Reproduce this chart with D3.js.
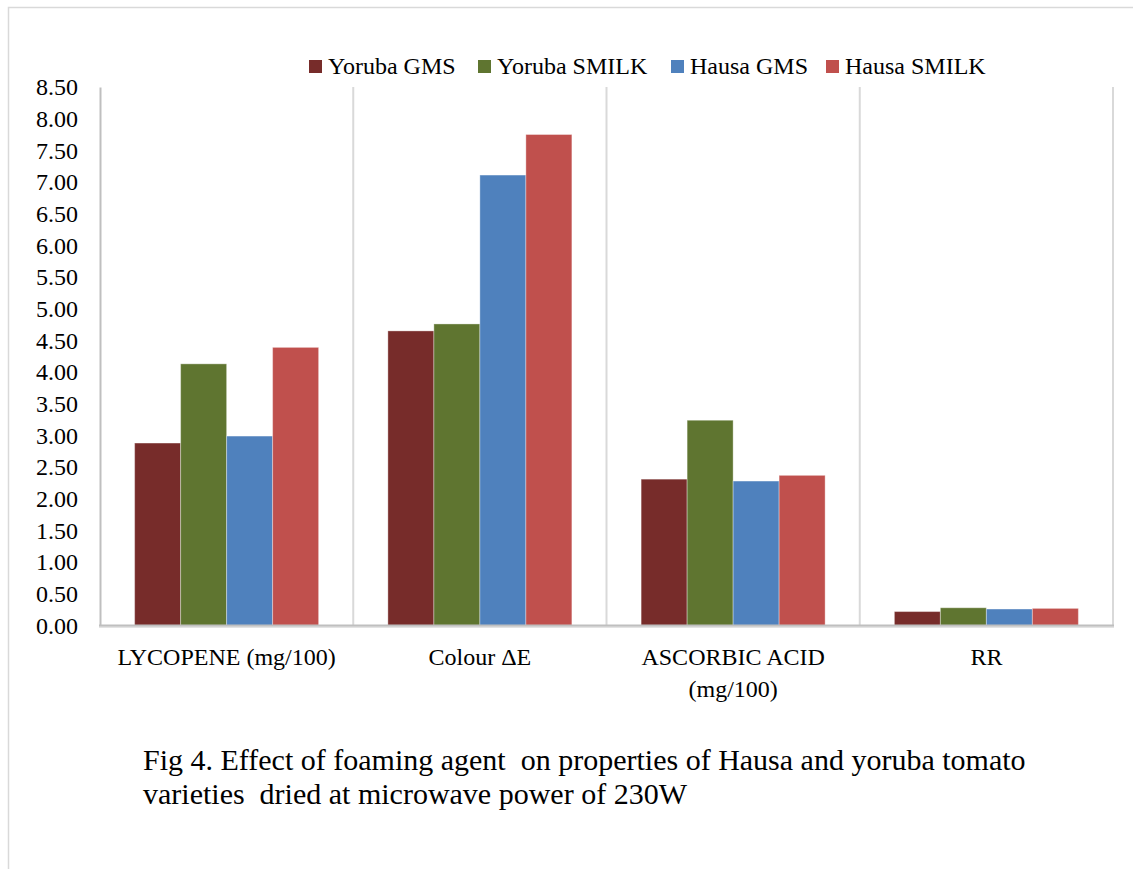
<!DOCTYPE html>
<html>
<head>
<meta charset="utf-8">
<script src="https://cdn.jsdelivr.net/npm/d3@7"></script>
<style>
  html, body { margin: 0; padding: 0; background: #fff; }
  svg { display: block; }
  text { font-family: "Liberation Serif", "Times New Roman", serif; fill: #000; }
</style>
</head>
<body>
<svg id="chart" width="1133" height="869"></svg>
<script>
const categories = ["LYCOPENE (mg/100)", "Colour \u0394E", "ASCORBIC ACID (mg/100)", "RR"];
const categoryLines = [["LYCOPENE (mg/100)"], ["Colour \u0394E"], ["ASCORBIC ACID", "(mg/100)"], ["RR"]];
const seriesNames = ["Yoruba GMS", "Yoruba SMILK", "Hausa GMS", "Hausa SMILK"];
const seriesColors = ["#772C2A", "#5F7530", "#4F81BD", "#C0504D"];
const yorubaGMS = [2.88, 4.65, 2.31, 0.22];
const yorubaSMILK = [4.13, 4.76, 3.24, 0.28];
const hausaGMS = [2.99, 7.11, 2.28, 0.26];
const hausaSMILK = [4.39, 7.75, 2.37, 0.27];
const seriesValues = [yorubaGMS, yorubaSMILK, hausaGMS, hausaSMILK];
const yTicks = [0, 0.5, 1, 1.5, 2, 2.5, 3, 3.5, 4, 4.5, 5, 5.5, 6, 6.5, 7, 7.5, 8, 8.5];
const captionLines = ["Fig 4. Effect of foaming agent  on properties of Hausa and yoruba tomato",
                      "varieties  dried at microwave power of 230W"];

const svg = d3.select("#chart");

// outer frame
svg.append("rect")
  .attr("x", 8.5).attr("y", 7.5)
  .attr("width", 1140).attr("height", 880)
  .attr("fill", "none").attr("stroke", "#d9d9d9").attr("stroke-width", 1.5);

const plot = { left: 100, right: 1113, top: 87, bottom: 625.5 };

const x0 = d3.scaleBand().domain(categories).range([plot.left, plot.right]).paddingInner(0).paddingOuter(0);
const x1 = d3.scaleBand().domain(seriesNames).range([0, x0.bandwidth()]).paddingInner(0).paddingOuter(0.753);
const y = d3.scaleLinear().domain([0, 8.5]).range([plot.bottom, plot.top]);
const color = d3.scaleOrdinal().domain(seriesNames).range(seriesColors);

// vertical category separators
const seps = categories.map(c => x0(c) + x0.bandwidth());
svg.append("g").selectAll("line").data(seps).join("line")
  .attr("x1", d => d).attr("x2", d => d)
  .attr("y1", plot.top).attr("y2", plot.bottom)
  .attr("stroke", "#d9d9d9").attr("stroke-width", 2);

// bars
const groups = svg.append("g").selectAll("g").data(categories).join("g")
  .attr("transform", c => `translate(${x0(c)},0)`);
groups.selectAll("rect")
  .data((c, i) => seriesNames.map((s, j) => ({ s, v: seriesValues[j][i] })))
  .join("rect")
  .attr("x", d => x1(d.s))
  .attr("width", x1.bandwidth())
  .attr("y", d => y(d.v))
  .attr("height", d => y(0) - y(d.v))
  .attr("fill", d => color(d.s))
  .attr("stroke", "rgba(255,255,255,0.35)")
  .attr("stroke-width", 1);

// y axis
const yAxis = d3.axisLeft(y).tickValues(yTicks).tickFormat(d3.format(".2f")).tickSize(0).tickPadding(22);
const gy = svg.append("g").attr("transform", `translate(${plot.left},0)`).call(yAxis);
gy.select(".domain").attr("stroke", "#bfbfbf").attr("stroke-width", 2);
gy.selectAll("text").style("font-size", "24px").attr("font-family", "Liberation Serif");

// x axis line
svg.append("line")
  .attr("x1", plot.left - 1).attr("x2", plot.right + 1)
  .attr("y1", plot.bottom + 1.5).attr("y2", plot.bottom + 1.5)
  .attr("stroke", "#e3e3e3").attr("stroke-width", 2);
svg.append("line")
  .attr("x1", plot.left - 1).attr("x2", plot.right + 1)
  .attr("y1", plot.bottom).attr("y2", plot.bottom)
  .attr("stroke", "#bfbfbf").attr("stroke-width", 2);

// category labels
const xl = svg.append("g").selectAll("text").data(categories).join("text")
  .attr("text-anchor", "middle")
  .style("font-size", "24px")
  .attr("transform", c => `translate(${x0(c) + x0.bandwidth() / 2},665)`);
xl.selectAll("tspan").data((c, i) => categoryLines[i]).join("tspan")
  .attr("x", 0).attr("dy", (d, k) => k === 0 ? 0 : 32).text(d => d);

// legend
const legendX = [309, 478, 671, 826];
const lg = svg.append("g").selectAll("g").data(seriesNames).join("g")
  .attr("transform", (d, i) => `translate(${legendX[i]},66)`);
lg.append("rect").attr("x", 0).attr("y", -6).attr("width", 13).attr("height", 13)
  .attr("fill", d => color(d));
lg.append("text").attr("x", 19).attr("y", 8).style("font-size", "24px").text(d => d);

// caption
svg.append("g").selectAll("text").data(captionLines).join("text")
  .attr("x", 143).attr("y", (d, i) => 770 + i * 34)
  .style("font-size", "30px").style("white-space", "pre")
  .text(d => d);
</script>
</body>
</html>
